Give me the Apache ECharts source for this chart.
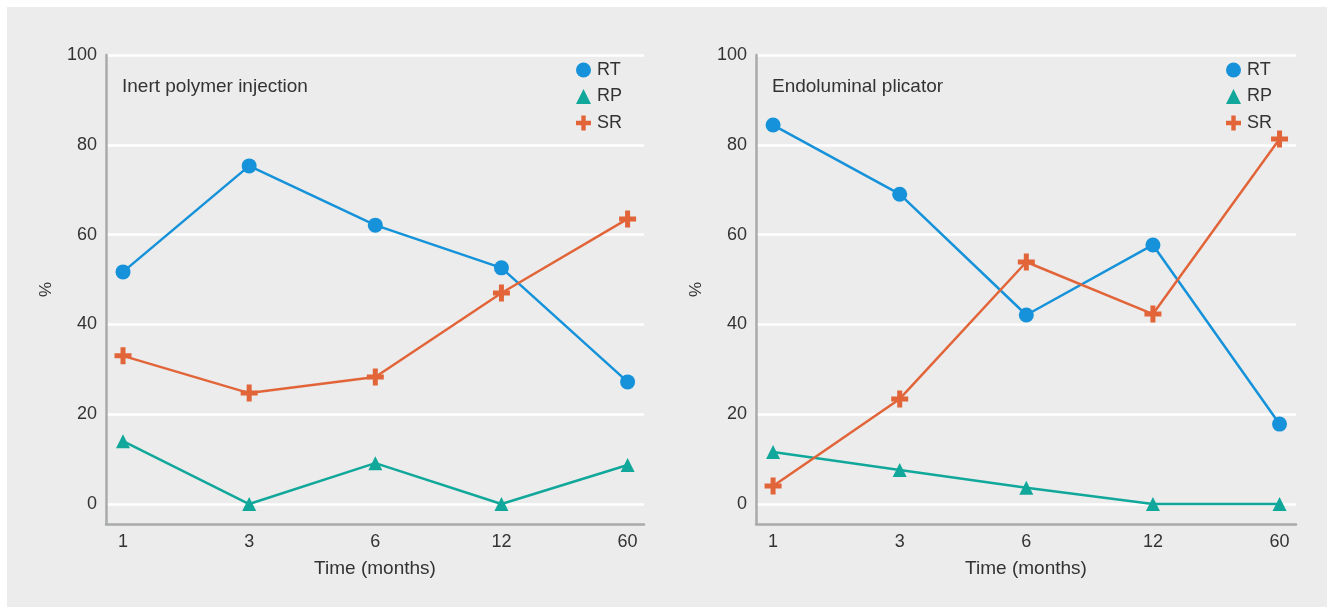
<!DOCTYPE html>
<html>
<head>
<meta charset="utf-8">
<script src="https://cdn.jsdelivr.net/npm/echarts@6/dist/echarts.min.js"></script>
<style>
  html, body { margin: 0; padding: 0; background: #ffffff; }
  #bg { position: absolute; left: 7px; top: 7px; width: 1320px; height: 600px; background: #ebeceb; }
  #chart { position: absolute; left: 0; top: 0; width: 1327px; height: 607px; }
</style>
</head>
<body>
<div id="bg"></div>
<div id="chart"></div>
<script>
// ---- data ----
const timeLabels = ['1', '3', '6', '12', '60'];
const yTicks = [0, 20, 40, 60, 80, 100];
const seriesNames = ['RT', 'RP', 'SR'];
const panelTitles = ['Inert polymer injection', 'Endoluminal plicator'];

const polymerRT = [51.7, 75.3, 62.1, 52.6, 27.2];
const polymerRP = [14.0, 0, 9.1, 0, 8.7];
const polymerSR = [33.0, 24.7, 28.3, 47.0, 63.5];

const plicatorRT = [84.4, 69.0, 42.1, 57.7, 17.8];
const plicatorRP = [11.6, 7.6, 3.6, 0, 0];
const plicatorSR = [4.0, 23.4, 53.9, 42.3, 81.3];

// ---- styles ----
const FONT = '"Liberation Sans", Arial, sans-serif';
const TXT = '#333333';
const COLORS = { RT: '#1592d9', RP: '#11a89b', SR: '#e2653a' };
const PLUS = 'path://M6,0 H11 V6 H17 V11 H11 V17 H6 V11 H0 V6 H6 Z';
const SYMBOLS = { RT: 'circle', RP: 'triangle', SR: PLUS };
const SIZES = { RT: 15, RP: 14, SR: 17 };

const toPairs = arr => arr.map((v, i) => [i, v]);

const grids = [
  { left: 106, top: 55, width: 538, height: 469 },
  { left: 756, top: 55, width: 540, height: 469 }
];

function xAxisFor(idx) {
  return {
    type: 'value', gridIndex: idx, min: -0.135, max: 4.13,
    name: 'Time (months)', nameLocation: 'middle', nameGap: 35,
    nameTextStyle: { fontFamily: FONT, fontSize: 19, color: TXT },
    axisLine: { show: true, onZero: false, lineStyle: { color: '#a9aaab', width: 2.5 } },
    axisTick: { show: false, customValues: [0, 1, 2, 3, 4] },
    splitLine: { show: false },
    axisLabel: {
      customValues: [0, 1, 2, 3, 4],
      formatter: v => timeLabels[Math.round(v)],
      fontFamily: FONT, fontSize: 18, color: TXT, margin: 9
    }
  };
}
function yAxisFor(idx) {
  return {
    type: 'value', gridIndex: idx, min: -4.45, max: 100,
    name: '%', nameLocation: 'middle', nameGap: 51,
    nameTextStyle: { fontFamily: FONT, fontSize: 17, color: TXT },
    axisLine: { show: true, onZero: false, lineStyle: { color: '#a9aaab', width: 2.5 } },
    axisTick: { show: false, customValues: yTicks },
    splitLine: { show: true, lineStyle: { color: '#ffffff', width: 2.5 } },
    axisLabel: {
      customValues: yTicks,
      fontFamily: FONT, fontSize: 18, color: TXT, margin: 9
    }
  };
}

const panelData = [
  { RT: polymerRT, RP: polymerRP, SR: polymerSR },
  { RT: plicatorRT, RP: plicatorRP, SR: plicatorSR }
];

const series = [];
panelData.forEach((pd, idx) => {
  seriesNames.forEach(name => {
    series.push({
      type: 'line', name: name,
      xAxisIndex: idx, yAxisIndex: idx,
      data: toPairs(pd[name]),
      symbol: SYMBOLS[name], symbolSize: SIZES[name],
      showAllSymbol: true,
      lineStyle: { color: COLORS[name], width: 2.5 },
      itemStyle: { color: COLORS[name] },
      emphasis: { disabled: true },
      animation: false
    });
  });
});

function legendFor(left) {
  return {
    orient: 'vertical', left: left, top: 61,
    itemWidth: 15, itemHeight: 15, itemGap: 8.5,
    padding: 0,
    textStyle: { fontFamily: FONT, fontSize: 18, color: TXT, padding: [0, 0, 0, 1] },
    data: seriesNames.map(n => ({ name: n, icon: SYMBOLS[n], itemStyle: { color: COLORS[n] } })),
    selectedMode: false
  };
}

const option = {
  animation: false,
  backgroundColor: 'transparent',
  title: [
    { text: panelTitles[0], left: 122, top: 77, padding: 0,
      textStyle: { fontFamily: FONT, fontSize: 19, fontWeight: 'normal', color: TXT } },
    { text: panelTitles[1], left: 772, top: 77, padding: 0,
      textStyle: { fontFamily: FONT, fontSize: 19, fontWeight: 'normal', color: TXT } }
  ],
  legend: [legendFor(576), legendFor(1226)],
  grid: grids,
  xAxis: [xAxisFor(0), xAxisFor(1)],
  yAxis: [yAxisFor(0), yAxisFor(1)],
  series: series
};

const chart = echarts.init(document.getElementById('chart'), null, { renderer: 'canvas' });
chart.setOption(option);
</script>
</body>
</html>
